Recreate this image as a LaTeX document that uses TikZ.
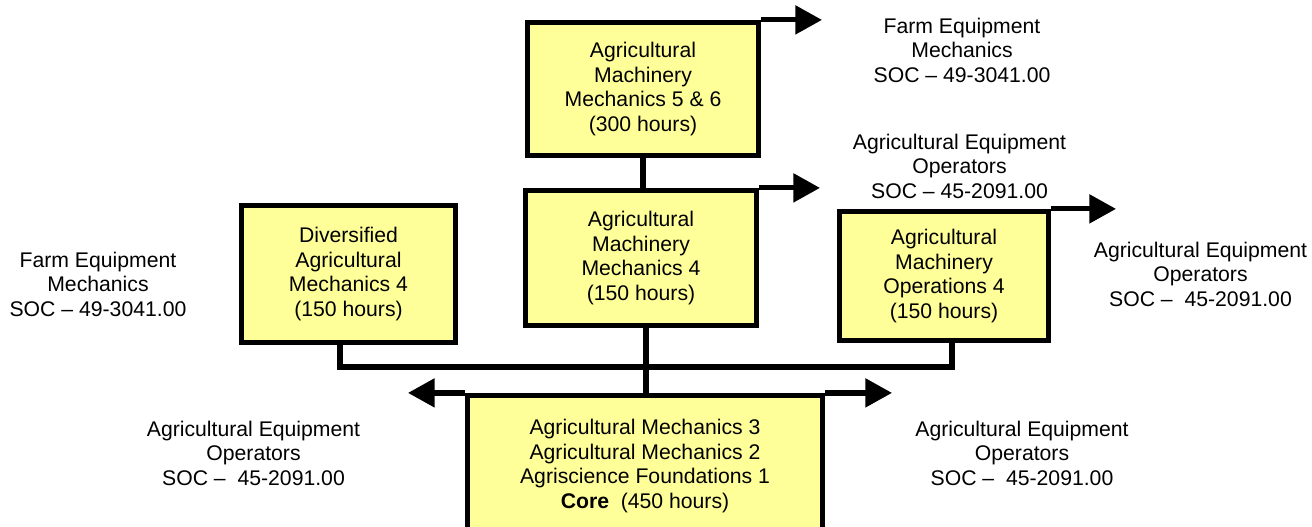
\documentclass[tikz,border=0pt]{standalone}
\usepackage{fontspec}
\setmainfont{Liberation Sans}
\usepackage{xcolor}
\usepackage{tikz}
\usetikzlibrary{arrows.meta, positioning, calc}
\definecolor{paleyellow}{rgb}{1, 1, 0.6}

\tikzset{
  course/.style={draw=black, fill=paleyellow, line width=3.9pt, align=center, inner sep=0pt,
    font=\fontsize{15.9}{18.4}\selectfont},
  soc/.style={align=center, inner sep=0pt, font=\fontsize{15.9}{18.4}\selectfont},
  link/.style={line width=3.9pt},
  outlink/.style={line width=3.9pt, -{Triangle[length=20pt, width=21pt]}}
}

\begin{document}
\begin{tikzpicture}[x=0.75pt, y=-0.75pt]
			\useasboundingbox (0,0) rectangle (1312,527);
			\clip (0,0) rectangle (1312,527);
			
			% course boxes
			\node[course, minimum width=173.25pt, minimum height=99.75pt] (amm56) at (643,89) {Agricultural\\Machinery\\Mechanics 5 \& 6\\(300 hours)};
			\node[course, minimum width=173.25pt, minimum height=101.25pt] (amm4) at (641,258) {Agricultural\\Machinery\\Mechanics 4\\(150 hours)};
			\node[course, minimum width=160.5pt, minimum height=102.75pt] (dam4) at (348.5,274) {Diversified\\Agricultural\\Mechanics 4\\(150 hours)};
			\node[course, minimum width=156.75pt, minimum height=96.75pt] (amo4) at (944,276) {Agricultural\\Machinery\\Operations 4\\(150 hours)};
			\node[course, minimum width=266.25pt, minimum height=105.75pt] (core) at (645,466) {Agricultural Mechanics 3\\Agricultural Mechanics 2\\Agriscience Foundations 1\\\textbf{Core}\ \ (450 hours)};
			
			% occupations
			\node[soc] (farmtop) at (962,50) {Farm Equipment\\Mechanics\\SOC – 49-3041.00};
			\node[soc] (opsmid) at (959.5,166) {Agricultural Equipment\\Operators\\SOC – 45-2091.00};
			\node[soc] (opsright) at (1200.5,274) {Agricultural Equipment\\Operators\\SOC –\ \ 45-2091.00};
			\node[soc] (farmleft) at (98,284) {Farm Equipment\\Mechanics\\SOC – 49-3041.00};
			\node[soc] (opsbl) at (253.5,453) {Agricultural Equipment\\Operators\\SOC –\ \ 45-2091.00};
			\node[soc] (opsbr) at (1022,453) {Agricultural Equipment\\Operators\\SOC –\ \ 45-2091.00};
			
			% pathway links
			\coordinate (busL) at (340,367);
			\coordinate (busR) at (952,367);
			\coordinate (stem) at (646,367);
			\draw[link] (amm56.south) -- (amm56.south |- amm4.north);
			\draw[link] (dam4.south -| busL) -- (busL) -- (busR) -- (amo4.south -| busR);
			\draw[link] (amm4.south -| stem) -- (core.north -| stem);
			
			% arrows out to the jobs
			\coordinate (tipA) at (822,0);
			\coordinate (tipB) at (820,0);
			\coordinate (tipC) at (1116,0);
			\coordinate (tipL) at (408,0);
			\coordinate (tipR) at (892,0);
			\draw[outlink] (amm56.north east) -- (amm56.north east -| tipA);
			\draw[outlink] (amm4.north east) -- (amm4.north east -| tipB);
			\draw[outlink] (amo4.north east) -- (amo4.north east -| tipC);
			\draw[outlink] (core.north west) -- (core.north west -| tipL);
			\draw[outlink] (core.north east) -- (core.north east -| tipR);
\end{tikzpicture}
\end{document}
